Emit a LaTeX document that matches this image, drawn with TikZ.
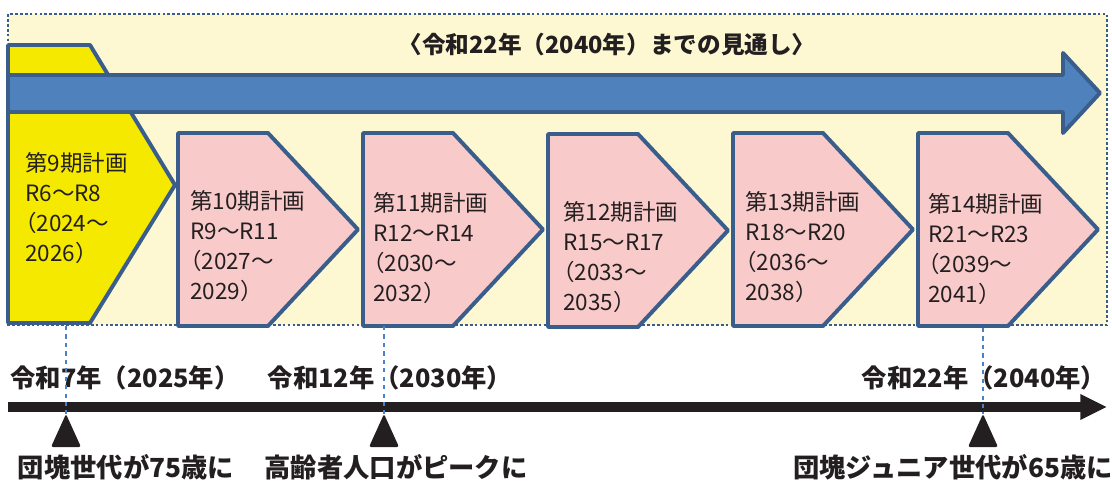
\documentclass[tikz,border=0pt]{standalone}
\usepackage{fontspec}
\setmainfont{Noto Sans CJK JP}
\newfontfamily\paltjp{Noto Sans CJK JP}[RawFeature=+palt]
\usetikzlibrary{arrows.meta}

\definecolor{planblue}{HTML}{3A5E8C}
\definecolor{arrowblue}{HTML}{4F81BD}
\definecolor{planpink}{HTML}{F9CACA}
\definecolor{planyellow}{HTML}{F5E900}
\definecolor{bgcream}{HTML}{FDF8D2}
\definecolor{textdark}{HTML}{231F20}
\definecolor{guideblue}{HTML}{4A80C6}

\newcommand{\lparen}{{\paltjp （}}

\tikzset{
  planshape/.style={draw=planblue, line width=2.8pt, line join=round},
  plantext/.style={anchor=west, align=left, inner sep=0pt, text=textdark,
    font=\fontsize{16}{21.5}\selectfont},
  titletext/.style={inner sep=0pt, text=textdark, font=\bfseries\fontsize{16.8}{18}\selectfont},
  yearlabel/.style={inner sep=0pt, text=textdark, font=\bfseries\fontsize{18}{20}\selectfont},
  eventlabel/.style={inner sep=0pt, text=textdark, font=\bfseries\fontsize{18.7}{20}\selectfont},
  guide/.style={guideblue, dashed, line width=0.8pt},
  eventtri/.style={fill=textdark, rounded corners=1.5pt}
}

\begin{document}
\begin{tikzpicture}[x=0.025cm, y=-0.025cm]
\useasboundingbox (0,0) rectangle (1112,486);
    % Frame
    \fill[bgcream] (8,14) rectangle (1107,325);
    \draw[planblue, line width=1.4pt, dash pattern=on 2pt off 1.5pt] (8,14) rectangle (1107,325);
    \node[titletext] (title) at (607,45) {〈令和22年（2040年）までの見通し〉};

    % 9th plan (behind the arrow)
    \draw[planshape, fill=planyellow] (8,45) -- (90,45) -- (175,185) -- (90,323) -- (8,323) -- cycle;
    % Big arrow
    \draw[planshape, fill=arrowblue] (8,75) -- (1063,75) -- (1063,53) -- (1100,93) -- (1063,133) -- (1063,112) -- (8,112) -- cycle;
    \node[plantext] (p9) at (25,208) {第9期計画\\R6～R8\\\lparen 2024～\\2026）};

    % Plans 10 - 14
    \draw[planshape, fill=planpink] (178,133) -- (268,133) -- (358,229.5) -- (268,326) -- (178,326) -- cycle;
    \node[plantext] (p10) at (190,246) {第10期計画\\R9～R11\\\lparen 2027～\\2029）};
    \draw[planshape, fill=planpink] (363,133) -- (453,133) -- (543,229.5) -- (453,326) -- (363,326) -- cycle;
    \node[plantext] (p11) at (373,248) {第11期計画\\R12～R14\\\lparen 2030～\\2032）};
    \draw[planshape, fill=planpink] (548,134) -- (638,134) -- (728,230.5) -- (638,327) -- (548,327) -- cycle;
    \node[plantext] (p12) at (563,257) {第12期計画\\R15～R17\\\lparen 2033～\\2035）};
    \draw[planshape, fill=planpink] (733,133) -- (823,133) -- (913,229.5) -- (823,326) -- (733,326) -- cycle;
    \node[plantext] (p13) at (745,247) {第13期計画\\R18～R20\\\lparen 2036～\\2038）};
    \draw[planshape, fill=planpink] (918,133) -- (1008,133) -- (1098,229.5) -- (1008,326) -- (918,326) -- cycle;
    \node[plantext] (p14) at (928,249) {第14期計画\\R21～R23\\\lparen 2039～\\2041）};

    % Time line
    \coordinate (axisstart) at (8,407);
    \coordinate (axisend) at (1107,407);
    \draw[textdark, line width=7pt, -{Triangle[length=19pt,width=17pt]}] (axisstart) -- (axisend);

    \node[yearlabel] (r7) at (125,378) {令和7年（2025年）};
    \node[yearlabel] (r12) at (390,378) {令和12年（2030年）};
    \node[yearlabel] (r22) at (984,378) {令和22年（2040年）};

    \fill[eventtri] (66,414) -- (81,447) -- (51,447) -- cycle;
    \fill[eventtri] (384,414) -- (399,447) -- (369,447) -- cycle;
    \fill[eventtri] (983,414) -- (998,447) -- (968,447) -- cycle;
    \node[eventlabel] (ev1) at (126,467) {団塊世代が75歳に};
    \node[eventlabel] (ev2) at (396,467) {高齢者人口がピークに};
    \node[eventlabel] (ev3) at (953,467) {団塊ジュニア世代が65歳に};

    % guides
    \coordinate (g1top) at (66,326);
    \coordinate (g1end) at (66,414);
    \coordinate (g2top) at (384,326);
    \coordinate (g2end) at (384,414);
    \coordinate (g3top) at (983,328);
    \coordinate (g3end) at (983,414);
    \draw[guide] (g1top) -- (g1end);
    \draw[guide] (g2top) -- (g2end);
    \draw[guide] (g3top) -- (g3end);
\end{tikzpicture}
\end{document}
